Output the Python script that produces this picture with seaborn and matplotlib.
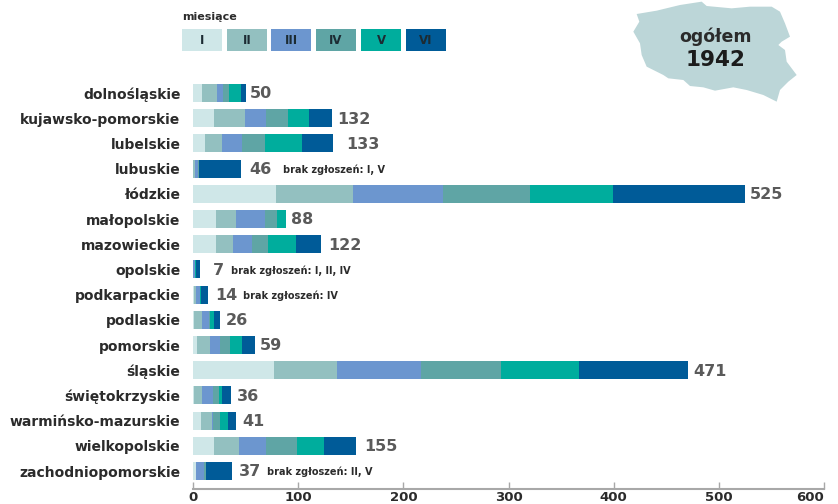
import matplotlib
matplotlib.use('Agg')
import matplotlib.pyplot as plt
from matplotlib.patches import Polygon, Rectangle
import numpy as np
import seaborn as sns

regions = ['dolnośląskie', 'kujawsko-pomorskie', 'lubelskie', 'lubuskie', 'łódzkie',
           'małopolskie', 'mazowieckie', 'opolskie', 'podkarpackie', 'podlaskie',
           'pomorskie', 'śląskie', 'świętokrzyskie', 'warmińsko-mazurskie',
           'wielkopolskie', 'zachodniopomorskie']
months = ['I', 'II', 'III', 'IV', 'V', 'VI']

m1 = [9, 20, 11, 0, 79, 22, 22, 0, 1, 1, 4, 77, 1, 8, 20, 3]
m2 = [14, 29, 17, 2, 73, 19, 16, 0, 2, 8, 12, 60, 8, 10, 24, 0]
m3 = [6, 20, 19, 3, 86, 27, 18, 2, 4, 6, 10, 80, 10, 1, 25, 7]
m4 = [5, 21, 21, 1, 82, 12, 15, 0, 0, 1, 9, 76, 6, 7, 30, 2]
m5 = [12, 20, 36, 0, 79, 8, 27, 1, 1, 4, 12, 74, 3, 7, 26, 0]
m6 = [4, 22, 29, 40, 126, 0, 24, 4, 6, 6, 12, 104, 8, 8, 30, 25]
month_values = [m1, m2, m3, m4, m5, m6]
totals = [50, 132, 133, 46, 525, 88, 122, 7, 14, 26, 59, 471, 36, 41, 155, 37]

notes = {'lubuskie': 'brak zgłoszeń: I, V', 'opolskie': 'brak zgłoszeń: I, II, IV',
         'podkarpackie': 'brak zgłoszeń: IV', 'zachodniopomorskie': 'brak zgłoszeń: II, V'}
grand_total = '1942'

colors = ['#cfe7e8', '#93c0c0', '#6c96cf', '#5fa5a5', '#00ad9d', '#005b98']
dark = '#2b2b2b'
gray = '#5a5a5a'

# pixel gap between the bar end and its number / note
label_gap = [4, 5, 13, 8, 5, 5, 7, 13, 7, 5, 5, 5, 6, 6, 8, 7]
note_gap = {'lubuskie': 42, 'opolskie': 31, 'podkarpackie': 35, 'zachodniopomorskie': 35}

W, H = 838, 504
sns.set_theme(style='white')
plt.rcParams['font.family'] = ['DejaVu Sans']

fig = plt.figure(figsize=(W / 100, H / 100), dpi=100)
row = 25.2
top_px, bottom_px = 78, 489
ax = fig.add_axes([193 / W, 1 - bottom_px / H, 631 / W, (bottom_px - top_px) / H])

left = np.zeros(len(regions))
for month, vals, c in zip(months, month_values, colors):
    sns.barplot(x=vals, y=regions, left=left, color=c, width=0.72, orient='h',
                errorbar=None, saturation=1, linewidth=0, ax=ax)
    left = left + np.array(vals)

ax.set_xlim(0, 600)
ax.set_ylim((bottom_px - 93) / row, (top_px - 93) / row)
sns.despine(ax=ax, left=True)
ax.spines['bottom'].set_color('#a8a8a8')
ax.spines['bottom'].set_linewidth(1.5)
ax.set_xticks(range(0, 601, 100))
ax.tick_params(axis='x', direction='in', length=5, width=1, color='#a8a8a8', bottom=True,
               labelsize=9.5, labelcolor=dark, pad=1.5)
ax.tick_params(axis='y', length=0, pad=9, labelsize=10, labelcolor=dark)
for t in ax.get_xticklabels() + ax.get_yticklabels():
    t.set_fontweight('bold')
# last label would run past the picture edge otherwise
ax.get_xticklabels()[-1].set_ha('right')
ax.get_xticklabels()[-1].set_x(600)
ax.set_xlabel('')
ax.set_ylabel('')
ax.patch.set_alpha(0)

for i, (name, total) in enumerate(zip(regions, totals)):
    ax.annotate(str(total), (total, i), xytext=(label_gap[i], -1), textcoords='offset pixels',
                va='center', ha='left', fontsize=11.5, fontweight='bold', color=gray)
    if name in notes:
        ax.annotate(notes[name], (total, i), xytext=(note_gap[name], -1), textcoords='offset pixels',
                    va='center', ha='left', fontsize=7, fontweight='bold', color=dark)

# month key
fig.text(182 / W, 1 - 17 / H, 'miesiące', fontsize=8, fontweight='bold', color=dark, va='center')
key_x = [182, 227, 271, 316, 361, 406]
for x0, month, c in zip(key_x, months, colors):
    fig.add_artist(Rectangle((x0 / W, 1 - 51 / H), 39.5 / W, 22 / H, color=c, lw=0,
                             transform=fig.transFigure))
    fig.text((x0 + 20) / W, 1 - 40.5 / H, month, fontsize=8.5, fontweight='bold',
             color='#1c2b33', ha='center', va='center')

# outline of Poland (pixels)
outline = np.array([(110, 42), (170, 32), (240, 15), (305, 5), (320, 18), (395, 25), (450, 20),
                    (515, 20), (540, 35), (555, 70), (570, 110), (545, 125), (535, 135), (555, 150),
                    (560, 185), (590, 225), (565, 245), (540, 270), (530, 305), (490, 285),
                    (440, 270), (400, 262), (345, 272), (310, 262), (270, 258), (250, 240),
                    (205, 235), (190, 225), (140, 200), (125, 165), (120, 130), (100, 95),
                    (118, 65)]) / 3 + np.array([600, 0])
fig.add_artist(Polygon(np.column_stack([outline[:, 0] / W, 1 - outline[:, 1] / H]), closed=True,
                       color='#bcd6d8', lw=0, transform=fig.transFigure))
fig.text(715 / W, 1 - 37 / H, 'ogółem', fontsize=12.5, fontweight='bold', color=dark, ha='center', va='center')
fig.text(715 / W, 1 - 60 / H, grand_total, fontsize=15.5, fontweight='bold', color='#1c1c1c', ha='center', va='center')

fig.savefig('out.png', dpi=100)
plt.close(fig)
